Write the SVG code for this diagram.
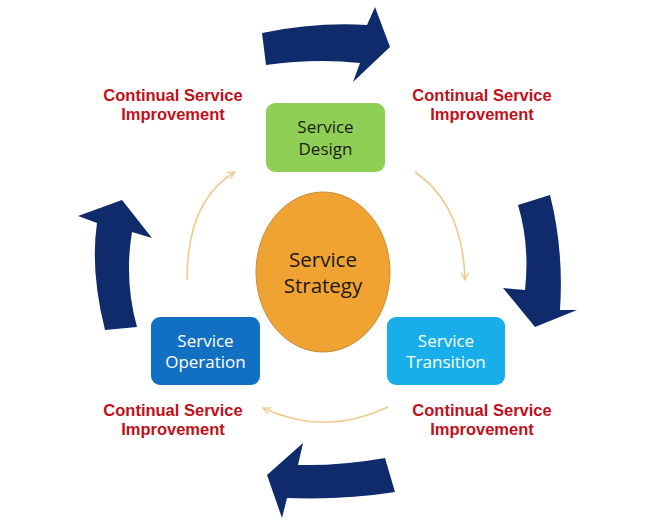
<svg xmlns="http://www.w3.org/2000/svg" width="656" height="527" viewBox="0 0 656 527">
<defs>
<style>
.big{fill:#0f2b6b}
.csi{font-family:"Liberation Sans",Arial,sans-serif;font-weight:bold;font-size:16.5px;fill:#c0101a;text-anchor:middle}
.nt{font-family:"Open Sans","Liberation Sans",sans-serif;font-size:17px;text-anchor:middle}
.thin{fill:none;stroke:#f0c98c;stroke-width:1.6}
</style>
<marker id="chev" viewBox="0 0 10 10" refX="9" refY="5" markerWidth="9" markerHeight="9" markerUnits="userSpaceOnUse" orient="auto">
<path d="M1,1 L9,5 L1,9" fill="none" stroke="#f0c98c" stroke-width="1.4"/>
</marker>
</defs>
<rect width="656" height="527" fill="#ffffff"/>
<g id="connectors">
<path class="big" d="M262,33 Q315,22 367,25 L375,7 L390,47 L353,82 L360,63 Q315,58 266,65 Z"/>
<path class="big" d="M518,205 L550,195 Q564,250 560,310 L577,310 L535,327 L503,288 L525,290 Q530,245 518,205 Z"/>
<path class="big" d="M385,458 Q340,466 298,465 L303,443 L267,475 L282,518 L287,498 Q345,500 395,492 Z"/>
<path class="big" d="M105,330 Q90,270 97,223 L78,216 L122,200 L152,238 L132,232 Q124,280 137,327 Z"/>
<path class="thin" d="M187,280 Q187,200 235,172" marker-end="url(#chev)"/>
<path class="thin" d="M415,172 Q463,205 465,280" marker-end="url(#chev)"/>
<path class="thin" d="M388,407 Q325,437 263,408" marker-end="url(#chev)"/>
</g>
<g id="csi-top-left"><text class="csi" x="173" y="101">Continual Service</text><text class="csi" x="173" y="120">Improvement</text></g>
<g id="csi-top-right"><text class="csi" x="482" y="101">Continual Service</text><text class="csi" x="482" y="120">Improvement</text></g>
<g id="csi-bottom-left"><text class="csi" x="173" y="416">Continual Service</text><text class="csi" x="173" y="435">Improvement</text></g>
<g id="csi-bottom-right"><text class="csi" x="482" y="416">Continual Service</text><text class="csi" x="482" y="435">Improvement</text></g>
<g id="service-design">
<rect x="266" y="103" width="119" height="69" rx="9" fill="#8fcf55"/>
<text class="nt" x="325.5" y="133" fill="#1a1a1a">Service</text>
<text class="nt" x="325.5" y="155" fill="#1a1a1a">Design</text>
</g>
<g id="service-strategy">
<ellipse cx="323" cy="272" rx="67" ry="80" fill="#f0a232" stroke="#c98b3a" stroke-width="1"/>
<text class="nt" x="323" y="267" font-size="20.5" style="font-size:20.5px" fill="#1a1a1a">Service</text>
<text class="nt" x="323" y="293" style="font-size:20.5px" fill="#1a1a1a">Strategy</text>
</g>
<g id="service-operation">
<rect x="151" y="317" width="109" height="68" rx="9" fill="#1170c2"/>
<text class="nt" x="205.5" y="347" fill="#ffffff">Service</text>
<text class="nt" x="205.5" y="368" fill="#ffffff">Operation</text>
</g>
<g id="service-transition">
<rect x="387" y="317" width="118" height="68" rx="9" fill="#17aeea"/>
<text class="nt" x="446" y="347" fill="#ffffff">Service</text>
<text class="nt" x="446" y="368" fill="#ffffff">Transition</text>
</g>
</svg>
